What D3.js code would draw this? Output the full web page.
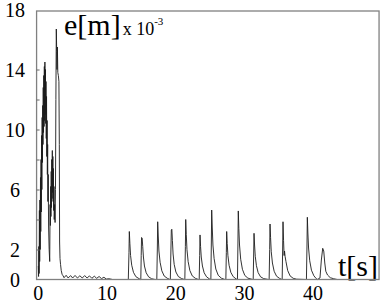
<!DOCTYPE html>
<html>
<head>
<meta charset="utf-8">
<script src="https://cdn.jsdelivr.net/npm/d3@7"></script>
</head>
<body style="margin:0">
<div id="app"></div>
<script>
// time [s] and error e [m] x 10^-3

// start-up transient
const startT = [0.00, 0.04, 0.08, 0.12, 0.16, 0.20, 0.24, 0.28, 0.32, 0.36, 0.40, 0.44, 0.48, 0.52, 0.56,
	0.60, 0.64, 0.68, 0.72, 0.76, 0.80, 0.84, 0.88, 0.92, 0.96, 1.00, 1.04, 1.08, 1.12, 1.16, 1.20, 1.24,
	1.28, 1.32, 1.36, 1.40, 1.44, 1.50, 1.58, 1.66, 1.72, 1.76, 1.80, 1.84, 1.88, 1.92, 1.96, 2.00, 2.04,
	2.08, 2.12, 2.16, 2.20, 2.24, 2.28, 2.32, 2.38, 2.44, 2.50, 2.56, 2.62, 2.68, 2.72, 2.78, 2.84, 2.92,
	3.00, 3.06, 3.10, 3.16, 3.24, 3.34, 3.46, 3.60]
const startE = [0.9, 0.2, 2.2, 0.4, 4.6, 1.2, 5.3, 2.0, 6.8, 3.2, 8.0, 4.5, 9.6, 6.0, 10.8,
	7.8, 11.6, 9.0, 12.8, 9.8, 13.6, 10.2, 14.2, 10.6, 14.5, 11.0, 14.0, 10.4, 13.2, 9.4, 12.2, 8.2,
	10.6, 7.0, 9.0, 5.2, 7.0, 3.5, 2.0, 1.2, 5.0, 3.6, 6.2, 4.2, 7.2, 4.8, 8.0, 5.4, 8.6,
	5.8, 8.2, 5.2, 7.4, 4.6, 6.2, 4.0, 5.0, 3.8, 6.0, 12.0, 16.7, 15.2, 14.0, 15.5, 13.8, 13.6,
	13.2, 9.0, 2.5, 1.4, 1.0, 0.6, 0.35, 0.25]

// small ripple while settling
const settleT = [3.75, 4.05, 4.35, 4.70, 5.00, 5.35, 5.70, 6.05, 6.40, 6.75, 7.10, 7.45, 7.80, 8.15,
	8.50, 8.85, 9.20, 9.55, 9.90, 10.30, 10.80, 12.00]
const settleE = [0.12, 0.28, 0.10, 0.26, 0.10, 0.27, 0.10, 0.25, 0.10, 0.26, 0.10, 0.24, 0.08, 0.22,
	0.08, 0.20, 0.06, 0.15, 0.03, 0.05, 0.00, 0.00]

// periodic pulses
const pulseT = [
	13.10, 13.20, 13.25, 13.33, 13.43, 13.60, 13.85, 14.20, 14.65, 14.85,
	14.92, 14.98, 15.03, 15.12, 15.20, 15.30, 15.45, 15.70, 16.05, 16.50, 17.00,
	17.25, 17.33, 17.38, 17.46, 17.56, 17.73, 17.98, 18.33, 18.78, 19.15,
	19.22, 19.30, 19.36, 19.44, 19.52, 19.62, 19.78, 20.03, 20.38, 20.83, 21.25,
	21.33, 21.41, 21.46, 21.54, 21.64, 21.81, 22.06, 22.41, 22.86, 23.30,
	23.42, 23.49, 23.54, 23.62, 23.72, 23.89, 24.14, 24.49, 24.90, 25.10,
	25.12, 25.19, 25.24, 25.32, 25.42, 25.59, 25.84, 26.19, 26.64, 27.15,
	27.30, 27.37, 27.42, 27.50, 27.60, 27.77, 28.02, 28.37, 28.82, 28.98,
	28.99, 29.06, 29.11, 29.19, 29.29, 29.46, 29.71, 30.06, 30.51, 31.20,
	31.28, 31.35, 31.40, 31.48, 31.58, 31.75, 32.00, 32.35, 32.80, 33.50,
	33.60, 33.68, 33.73, 33.81, 33.91, 34.08, 34.33, 34.68, 35.13, 35.45,
	35.50, 35.57, 35.62, 35.70, 35.78, 35.84, 35.92, 36.05, 36.30, 36.65, 37.10, 37.60, 38.90,
	39.03, 39.11, 39.16, 39.24, 39.34, 39.51, 39.76, 40.11, 40.45, 40.60,
	41.00, 41.20, 41.40, 41.55, 41.70, 41.85, 42.10, 42.50, 43.00, 43.50]
const pulseE = [
	0, 1.8, 3.2, 2.4, 1.6, 0.95, 0.48, 0.19, 0.06, 0,
	0, 1.6, 2.8, 2.75, 2.2, 1.5, 0.9, 0.45, 0.18, 0.05, 0,
	0, 2.1, 3.85, 2.9, 1.9, 1.15, 0.58, 0.23, 0.08, 0,
	0, 1.9, 3.3, 3.35, 2.6, 1.7, 1.0, 0.5, 0.2, 0.07, 0,
	0, 2.2, 4.0, 3.0, 2.0, 1.2, 0.6, 0.24, 0.08, 0,
	0, 1.6, 2.97, 2.2, 1.5, 0.9, 0.45, 0.18, 0.04, 0,
	0, 2.5, 4.63, 3.5, 2.3, 1.4, 0.7, 0.28, 0.09, 0,
	0, 1.8, 3.2, 2.4, 1.6, 0.95, 0.48, 0.19, 0.03, 0,
	0, 2.5, 4.57, 3.4, 2.3, 1.35, 0.68, 0.27, 0.09, 0,
	0, 1.7, 3.08, 2.3, 1.55, 0.92, 0.46, 0.18, 0.06, 0,
	0, 2.0, 3.7, 2.8, 1.85, 1.1, 0.55, 0.22, 0.07, 0,
	0, 2.1, 3.85, 2.6, 1.6, 1.9, 1.55, 1.2, 0.6, 0.24, 0.08, 0.02, 0,
	0, 2.3, 4.15, 3.1, 2.1, 1.25, 0.62, 0.25, 0.06, 0,
	0.1, 1.3, 2.08, 1.9, 1.1, 0.55, 0.3, 0.12, 0.05, 0]

const xTicks = [0, 10, 20, 30, 40]
const yLabels = [0, 2, 6, 10, 14, 18]
const yTickMarks = [2, 4, 6, 8, 10, 12, 14]
const fonts = ['Liberation Serif']

const width = 386
const height = 308

const data = [
	...startT.map((t, i) => ({ t, e: startE[i] })),
	...settleT.map((t, i) => ({ t, e: settleE[i] })),
	...pulseT.map((t, i) => ({ t, e: pulseE[i] }))
]

const x = d3.scaleLinear().domain([0, 50]).range([38.3, 381.8])
const y = d3.scaleLinear().domain([0, 18]).range([279.5, 9.5])

const svg = d3.select('#app').append('svg')
	.attr('width', width)
	.attr('height', height)

// labels first, same way as a plain text list
const labels = [
	...yLabels.map(v => ({ s: String(v), x: 15, y: y(v) + 7, size: 20, anchor: 'middle' })),
	...xTicks.map(v => ({ s: String(v), x: x(v), y: 300, size: 20, anchor: 'middle' })),
	{ s: 't[s]', x: 378, y: 276, size: 30, anchor: 'end' }
]
svg.selectAll('text').data(labels).enter().append('text')
	.attr('x', d => d.x)
	.attr('y', d => d.y)
	.attr('text-anchor', d => d.anchor)
	.style('font-family', d => `"${fonts[0]}"`)
	.style('font-size', d => d.size + 'px')
	.text(d => d.s)

// axis name with exponent
const title = svg.append('text')
	.attr('x', 64)
	.attr('y', 35)
	.style('font-family', `"${fonts[0]}"`)
title.append('tspan').style('font-size', '30px').text('e[m]')
title.append('tspan').style('font-size', '18px').attr('dx', 2).text('x 10')
title.append('tspan').style('font-size', '11px').attr('dy', -10).text('-3')

// trace
svg.append('path')
	.datum(data)
	.attr('fill', 'none')
	.attr('stroke', '#1c1c1c')
	.attr('stroke-width', 0.9)
	.attr('stroke-linejoin', 'round')
	.attr('d', d3.line().x(d => x(d.t)).y(d => y(d.e)))

// frame
svg.append('rect')
	.attr('x', x(-0.25))
	.attr('y', 11)
	.attr('width', x(49.6) - x(-0.25))
	.attr('height', y(0) - 11)
	.attr('fill', 'none')
	.attr('stroke', '#808080')
	.attr('stroke-width', 1.3)

// inner ticks on the left side
svg.append('g')
	.attr('transform', `translate(${x(-0.25)}, 0)`)
	.call(d3.axisRight(y).tickValues(yTickMarks).tickSize(3).tickFormat(''))
	.call(g => g.select('.domain').remove())
	.call(g => g.selectAll('line').attr('stroke', '#666'))
</script>
</body>
</html>
